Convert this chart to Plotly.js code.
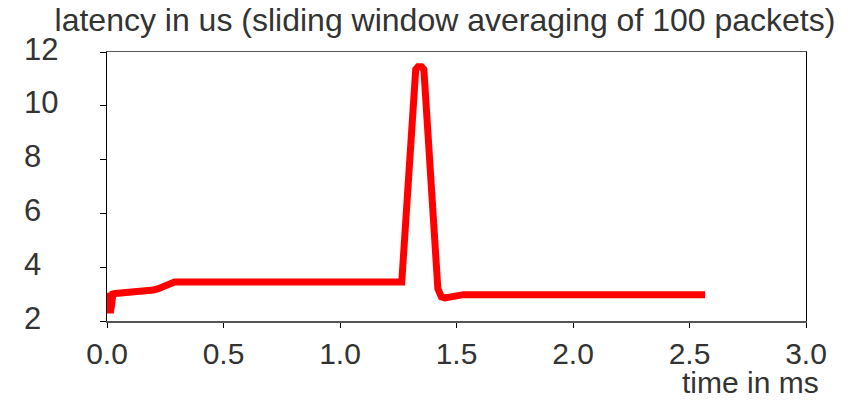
<!DOCTYPE html>
<html>
<head>
<meta charset="utf-8">
<script src="https://cdn.plot.ly/plotly-3.0.1.min.js"></script>
<style>html,body{margin:0;padding:0;background:#fff;}#chart{width:850px;height:402px;}</style>
</head>
<body>
<div id="chart"></div>
<script>
// time in ms
const timeMs = [0.003, 0.008, 0.014, 0.02, 0.025, 0.035, 0.1, 0.2, 0.22, 0.25, 0.27, 0.29, 0.54, 0.56, 0.58, 1.0, 1.265, 1.325, 1.335, 1.35, 1.36, 1.42, 1.435, 1.45, 1.47, 1.5, 1.53, 1.7, 2.0, 2.25, 2.27, 2.29, 2.567];
// latency in us
const latencyUs = [3.05, 2.35, 2.3, 2.6, 3.0, 3.02, 3.05, 3.15, 3.2, 3.33, 3.42, 3.45, 3.45, 3.43, 3.45, 3.45, 3.45, 11.35, 11.45, 11.45, 11.35, 3.2, 2.9, 2.86, 2.88, 2.95, 2.98, 2.98, 2.98, 2.98, 2.96, 2.98, 2.98];
const yTickVals = [2, 4, 6, 8, 10, 12];
const yTickText = ["2", "4", "6", "8", "10", "12"];
const xTickVals = [0, 0.5, 1, 1.5, 2, 2.5, 3];
const xTickText = ["0.0", "0.5", "1.0", "1.5", "2.0", "2.5", "3.0"];
const titleText = "latency in us (sliding window averaging of 100 packets)";
const xTitleText = "time in ms";

const txt = '#333333';
const fontFam = '"Liberation Sans", Arial, sans-serif';

const annotations = yTickVals.map((v, i) => ({
  xref: 'paper', yref: 'y', x: -0.1216, y: v, yshift: 3,
  xanchor: 'left', yanchor: 'middle', showarrow: false,
  text: yTickText[i], font: {family: fontFam, size: 31, color: txt}
}));
annotations.push({
  xref: 'paper', yref: 'paper', x: 1.02, y: -0.23,
  xanchor: 'right', yanchor: 'middle', showarrow: false, borderpad: 0,
  text: xTitleText, font: {family: fontFam, size: 30, color: txt}
});

const trace = {
  x: timeMs, y: latencyUs, type: 'scatter', mode: 'lines',
  line: {color: '#ff0000', width: 7},
  hoverinfo: 'skip'
};

const layout = {
  width: 850, height: 402,
  margin: {l: 107, r: 44, t: 52, b: 81},
  paper_bgcolor: '#ffffff', plot_bgcolor: '#ffffff',
  showlegend: false,
  title: {text: titleText, x: 0.5235, xanchor: 'center', y: 0.95, yanchor: 'middle',
          font: {family: fontFam, size: 32, color: txt}},
  xaxis: {
    range: [0, 3], tickvals: xTickVals, ticktext: xTickText,
    showgrid: false, zeroline: false,
    showline: true, linecolor: '#555555', linewidth: 1.5, mirror: true,
    ticks: 'outside', ticklen: 5, tickcolor: '#000000', tickwidth: 1,
    tickfont: {family: fontFam, size: 30, color: txt}
  },
  yaxis: {
    range: [2, 12], tickvals: yTickVals, ticktext: yTickVals.map(() => ''),
    showgrid: false, zeroline: false,
    showline: true, linecolor: '#000000', linewidth: 1, mirror: true,
    ticks: 'outside', ticklen: 6, tickcolor: '#000000', tickwidth: 1
  },
  annotations: annotations
};

Plotly.newPlot('chart', [trace], layout, {staticPlot: true, displayModeBar: false});
</script>
</body>
</html>
